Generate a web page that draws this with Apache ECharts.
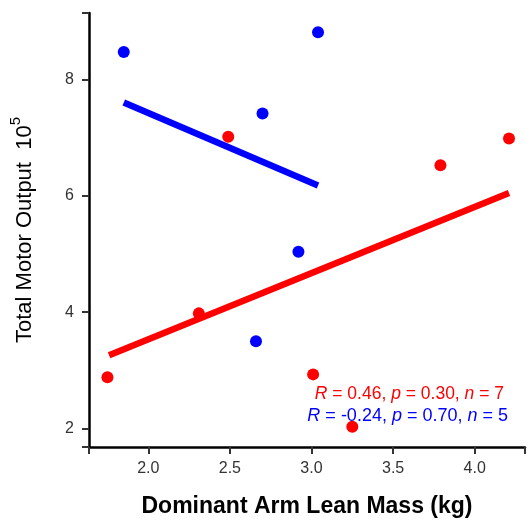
<!DOCTYPE html>
<html lang="en">
<head>
    <meta charset="UTF-8">
    <title>Total Motor Output vs Dominant Arm Lean Mass</title>
    <script src="https://cdn.jsdelivr.net/npm/echarts@6.0.0/dist/echarts.min.js"></script>
    <style>
        html, body { margin: 0; padding: 0; background: #fff; }
        #chart { width: 528px; height: 523px; }
    </style>
</head>
<body>
    <div id="chart"></div>
    <script>
    // data
    var redX = [1.75, 2.31, 2.49, 3.01, 3.25, 3.79, 4.21];
    var redY = [2.88, 3.98, 7.02, 2.93, 2.03, 6.53, 6.99];
    var blueX = [1.85, 2.70, 3.04, 2.92, 2.66];
    var blueY = [8.48, 7.42, 8.82, 5.04, 3.50];
    // fitted lines (end points)
    var redFitX = [1.76, 4.21];
    var redFitY = [3.26, 6.05];
    var blueFitX = [1.85, 3.04];
    var blueFitY = [7.61, 6.18];
    var xTicks = [2.0, 2.5, 3.0, 3.5, 4.0];
    var yTicks = [2, 4, 6, 8];

    var xMin = 1.637, xMax = 4.308;
    var yMin = 1.68, yMax = 9.15;

    function pairs(xs, ys) {
        return xs.map(function (x, i) { return [x, ys[i]]; });
    }

    var font = 'Liberation Sans';
    var chart = echarts.init(document.getElementById('chart'));

    var option = {
        animation: false,
        textStyle: { fontFamily: font },
        grid: { left: 89, top: 13, right: 3, bottom: 74 },
        xAxis: {
            type: 'value',
            min: xMin,
            max: xMax,
            splitNumber: 5,
            name: 'Dominant Arm Lean Mass (kg)',
            nameLocation: 'middle',
            nameGap: 48,
            nameTextStyle: { fontSize: 23, fontWeight: 'bold', color: '#000', fontFamily: font },
            splitLine: { show: false },
            axisLine: { onZero: false, lineStyle: { color: '#000', width: 2.5 } },
            axisTick: { show: true, length: 7, lineStyle: { color: '#333', width: 2 } },
            axisLabel: {
                color: '#333', fontSize: 16, margin: 14,
                formatter: function (v) {
                    return xTicks.indexOf(Math.round(v * 10) / 10) >= 0 && Math.abs(v * 10 - Math.round(v * 10)) < 1e-6 ? v.toFixed(1) : '';
                }
            }
        },
        yAxis: {
            type: 'value',
            min: yMin,
            max: yMax,
            splitNumber: 4,
            name: '{t|Total Motor Output  10}{s|5}',
            nameLocation: 'middle',
            nameGap: 53,
            nameRotate: 90,
            nameTextStyle: {
                rich: {
                    t: { fontSize: 22, color: '#000', fontFamily: font, lineHeight: 28, verticalAlign: 'bottom' },
                    s: { fontSize: 15, color: '#000', fontFamily: font, lineHeight: 28, verticalAlign: 'top' }
                }
            },
            splitLine: { show: false },
            axisLine: { onZero: false, lineStyle: { color: '#000', width: 2.5 } },
            axisTick: { show: true, length: 7, lineStyle: { color: '#333', width: 2 } },
            axisLabel: {
                color: '#333', fontSize: 16, margin: 15,
                formatter: function (v) {
                    return yTicks.indexOf(Math.round(v)) >= 0 && Math.abs(v - Math.round(v)) < 1e-6 ? String(v) : '';
                }
            }
        },
        graphic: [
            {
                type: 'text',
                right: 24,
                top: 385,
                style: {
                    text: '{i|R} = 0.46, {i|p} = 0.30, {i|n} = 7',
                    fill: '#FF0000',
                    font: '17.5px ' + font,
                    rich: { i: { fontStyle: 'italic', fontSize: 17.5, fill: '#FF0000', fontFamily: font } }
                }
            },
            {
                type: 'text',
                right: 20,
                top: 407,
                style: {
                    text: '{i|R} = -0.24, {i|p} = 0.70, {i|n} = 5',
                    fill: '#0000FF',
                    font: '18px ' + font,
                    rich: { i: { fontStyle: 'italic', fontSize: 18, fill: '#0000FF', fontFamily: font } }
                }
            }
        ],
        series: [
            {
                type: 'line',
                data: pairs(redFitX, redFitY),
                showSymbol: false,
                lineStyle: { color: '#FF0000', width: 6.5, cap: 'butt' },
                z: 3
            },
            {
                type: 'line',
                data: pairs(blueFitX, blueFitY),
                showSymbol: false,
                lineStyle: { color: '#0000FF', width: 6.5, cap: 'butt' },
                z: 3
            },
            {
                type: 'scatter',
                data: pairs(redX, redY),
                symbolSize: 12,
                itemStyle: { color: '#FF0000', opacity: 1 },
                z: 4
            },
            {
                type: 'scatter',
                data: pairs(blueX, blueY),
                symbolSize: 12,
                itemStyle: { color: '#0000FF', opacity: 1 },
                z: 4
            }
        ]
    };

    chart.setOption(option);
    </script>
</body>
</html>
